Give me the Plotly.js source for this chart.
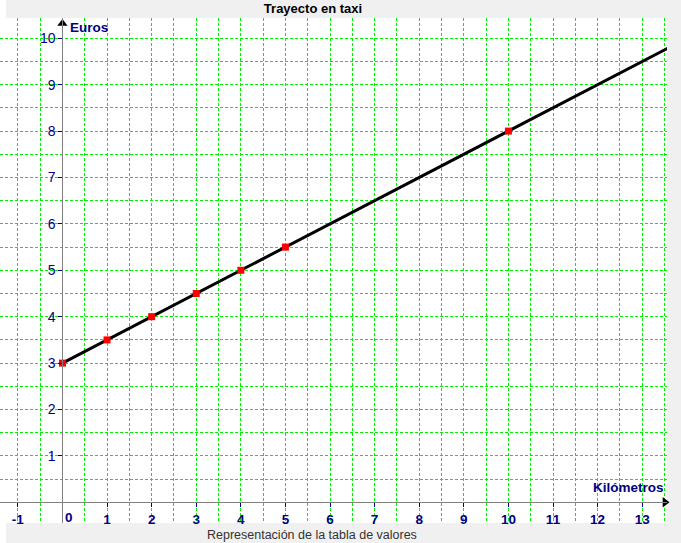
<!DOCTYPE html>
<html>
<head>
<meta charset="utf-8">
<script src="https://cdn.plot.ly/plotly-3.0.1.min.js"></script>
<style>html,body{margin:0;padding:0;background:#fff;}#chart{width:681px;height:543px;}</style>
</head>
<body>
<div id="chart"></div>
<script>
// Data
const kmValues = [0, 1, 2, 3, 4, 5, 10];
const euroValues = [3, 3.5, 4, 4.5, 5, 5.5, 8];
const lineKm = [0, 13.6];
const lineEuros = [3, 9.8];
const xTickVals = [-1, 1, 2, 3, 4, 5, 6, 7, 8, 9, 10, 11, 12, 13];
const xTickText = ['-1', '1', '2', '3', '4', '5', '6', '7', '8', '9', '10', '11', '12', '13'];
const yTickVals = [1, 2, 3, 4, 5, 6, 7, 8, 9, 10];
const yTickText = ['1', '2', '3', '4', '5', '6', '7', '8', '9', '10'];
const chartTitle = 'Trayecto en taxi';
const xLabel = 'Kilómetros';
const yLabel = 'Euros';
const footer = 'Representación de la tabla de valores';

const xRange = [-1.40, 13.556];
const yRange = [-0.446, 10.437];
const navy = '#000080';
const gridColor = '#00f000';
const font = 'Liberation Sans, Arial, sans-serif';

const xPos = (0 - yRange[0]) / (yRange[1] - yRange[0]);
const yPos = (0 - xRange[0]) / (xRange[1] - xRange[0]);

const traces = [
  {x: lineKm, y: lineEuros, mode: 'lines', line: {color: '#000', width: 3}, hoverinfo: 'skip'},
  {x: kmValues, y: euroValues, mode: 'markers', marker: {symbol: 'square', color: '#ff0000', size: 7}},
  {x: [13.51], y: [0], mode: 'markers', marker: {symbol: 'triangle-right', color: '#000', size: 9}, cliponaxis: false, hoverinfo: 'skip'},
  {x: [0], y: [10.32], mode: 'markers', marker: {symbol: 'triangle-up', color: '#000', size: 9}, cliponaxis: false, hoverinfo: 'skip'}
];

const gridCommon = {showgrid: true, gridcolor: gridColor, gridwidth: 1, griddash: '3px,2px'};

const layout = {
  width: 681, height: 543,
  margin: {l: 0, r: 14, t: 18, b: 20, pad: 0},
  paper_bgcolor: '#f0f0f0',
  plot_bgcolor: '#ffffff',
  showlegend: false,
  title: {text: chartTitle, font: {family: font, size: 13, color: '#000', weight: 'bold'},
          x: 313/681, xref: 'container', xanchor: 'center', y: 1 - 8.5/543, yref: 'container', yanchor: 'middle'},
  xaxis: Object.assign({
    range: xRange, anchor: 'free', position: xPos,
    tickmode: 'array', tickvals: xTickVals, ticktext: xTickText,
    ticks: 'outside', ticklen: 4, tickcolor: navy, tickwidth: 1,
    tickfont: {family: font, size: 13.5, color: navy, weight: 'bold'},
    showline: true, linecolor: '#808080', linewidth: 1, zeroline: false,
    minor: {tick0: 0, dtick: 0.5, showgrid: true, gridcolor: gridColor, gridwidth: 1, griddash: '3px,2px'}
  }, gridCommon),
  yaxis: Object.assign({
    range: yRange, anchor: 'free', position: yPos,
    tickmode: 'array', tickvals: yTickVals, ticktext: yTickText,
    ticks: 'outside', ticklen: 4, tickcolor: navy, tickwidth: 1,
    tickfont: {family: font, size: 14, color: navy},
    showline: true, linecolor: '#808080', linewidth: 1, zeroline: false,
    minor: {tick0: 0, dtick: 0.5, showgrid: true, gridcolor: gridColor, gridwidth: 1, griddash: '3px,2px'}
  }, gridCommon),
  shapes: [
    {type: 'rect', xref: 'paper', yref: 'paper', x0: -0.02, x1: 6/667, y0: -0.1, y1: 1.1,
     fillcolor: '#ffffff', line: {width: 0}, layer: 'below'}
  ],
  annotations: [
    {text: '0', x: 0, y: 0, xref: 'x', yref: 'y', showarrow: false, xanchor: 'left', yanchor: 'top',
     xshift: 1, yshift: -6, font: {family: font, size: 13.5, color: navy, weight: 'bold'}},
    {text: yLabel, x: 0, y: 10.437, xref: 'x', yref: 'y', showarrow: false, xanchor: 'left', yanchor: 'top',
     xshift: 6, yshift: 0, font: {family: font, size: 13.5, color: navy, weight: 'bold'}},
    {text: xLabel, x: 13.556, y: 0, xref: 'x', yref: 'y', showarrow: false, xanchor: 'right', yanchor: 'bottom',
     xshift: -1, yshift: 5, font: {family: font, size: 13.5, color: navy, weight: 'bold'}},
    {text: footer, x: 312/667, y: -12/505, xref: 'paper', yref: 'paper', showarrow: false, xanchor: 'center', yanchor: 'middle',
     font: {family: font, size: 12.5, color: '#333333'}}
  ]
};

Plotly.newPlot('chart', traces, layout, {staticPlot: true, displayModeBar: false});
</script>
</body>
</html>
